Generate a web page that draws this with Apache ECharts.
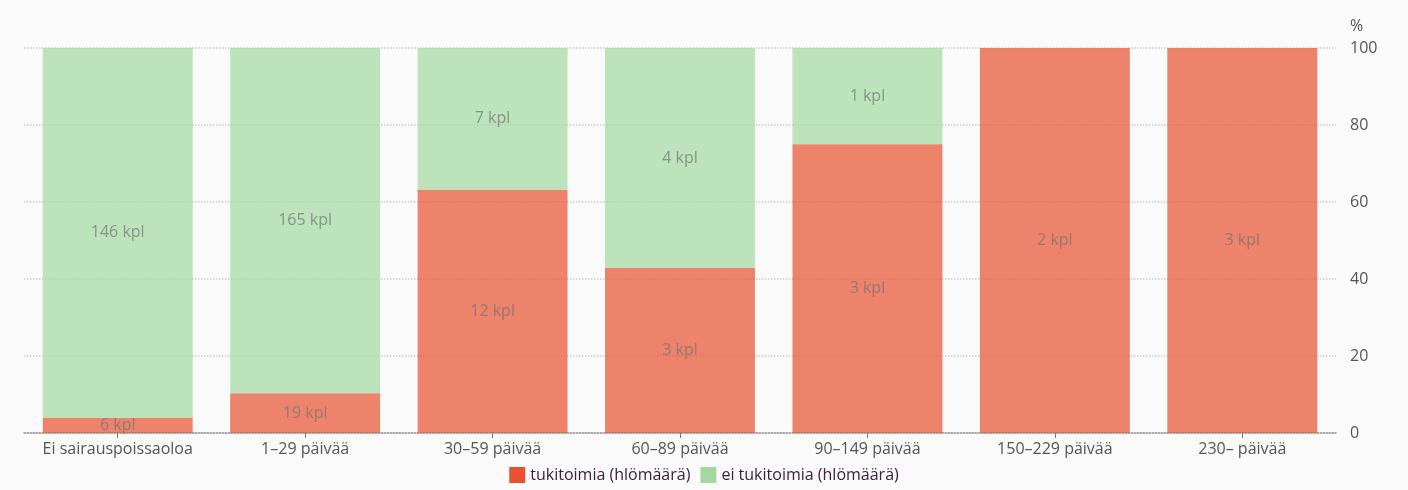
<!DOCTYPE html>
<html>
<head>
<meta charset="utf-8">
<script src="https://cdn.jsdelivr.net/npm/echarts@6/dist/echarts.min.js"></script>
<style>
html, body { margin: 0; padding: 0; background: #fafafa; }
#chart { width: 1408px; height: 490px; }
</style>
</head>
<body>
<div id="chart"></div>
<script>
// luokat ja henkilömäärät
const categories = ['Ei sairauspoissaoloa', '1–29 päivää', '30–59 päivää', '60–89 päivää', '90–149 päivää', '150–229 päivää', '230– päivää']
const tukitoimia = [6, 19, 12, 3, 3, 2, 3]
const eiTukitoimia = [146, 165, 7, 4, 1, 0, 0]
const yTicks = [0, 20, 40, 60, 80, 100]

const font = '"Open Sans", sans-serif'

// osuudet prosentteina, lukumäärä talteen labelia varten
function share (arr, i) {
  const total = tukitoimia[i] + eiTukitoimia[i]
  return { value: arr[i] / total * 100, count: arr[i] }
}
const redData = tukitoimia.map((v, i) => share(tukitoimia, i))
const greenData = eiTukitoimia.map((v, i) => share(eiTukitoimia, i))

const labelStyle = {
  show: true,
  position: 'inside',
  color: '#707070',
  fontSize: 16,
  fontFamily: font,
  formatter: p => (p.data.count > 0 ? p.data.count + ' kpl' : '')
}

const chart = echarts.init(document.getElementById('chart'))
chart.setOption({
  backgroundColor: '#fafafa',
  animation: false,
  grid: { left: 24, right: 72, top: 48, bottom: 57 },
  legend: {
    bottom: 2,
    left: 'center',
    itemWidth: 16,
    itemHeight: 16,
    itemGap: 10,
    icon: 'rect',
    itemStyle: { opacity: 1 },
    textStyle: { color: '#3d2040', fontSize: 16, fontFamily: font }
  },
  xAxis: {
    type: 'category',
    data: categories,
    axisLine: { lineStyle: { color: '#999', type: 'dotted', width: 1.5 } },
    axisTick: { show: true, alignWithLabel: true, interval: 0, length: 5, lineStyle: { color: '#777' } },
    axisLabel: { color: '#555', fontSize: 16, fontFamily: font, margin: 8, interval: 0 }
  },
  yAxis: {
    type: 'value',
    position: 'right',
    min: yTicks[0],
    max: yTicks[yTicks.length - 1],
    interval: 20,
    name: '%',
    nameGap: 14,
    nameTextStyle: { color: '#555', fontSize: 16, fontFamily: font, align: 'left', padding: [0, 0, 0, 14] },
    axisLine: { show: false },
    axisTick: { show: false },
    axisLabel: { color: '#555', fontSize: 16, fontFamily: font, margin: 14 },
    splitLine: { lineStyle: { color: '#ccc', type: 'dotted', width: 1.5 } }
  },
  series: [
    {
      name: 'tukitoimia (hlömäärä)',
      type: 'bar',
      stack: 'yht',
      barWidth: '80%',
      color: '#e8502f',
      itemStyle: { opacity: 0.7 },
      label: labelStyle,
      data: redData
    },
    {
      name: 'ei tukitoimia (hlömäärä)',
      type: 'bar',
      stack: 'yht',
      barWidth: '80%',
      color: '#a3d9a0',
      itemStyle: { opacity: 0.7 },
      label: labelStyle,
      data: greenData
    }
  ]
})
</script>
</body>
</html>
